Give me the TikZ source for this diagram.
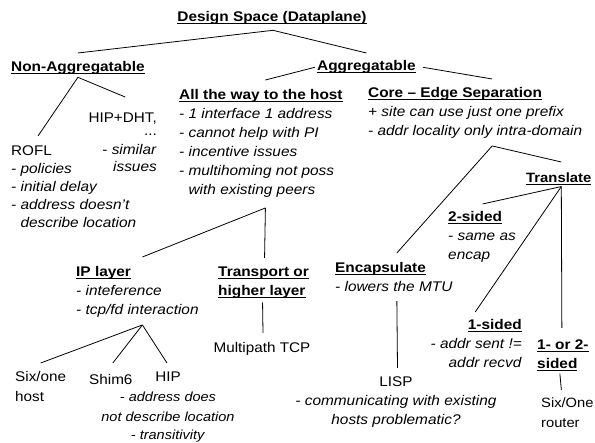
\documentclass[tikz,border=0pt]{standalone}
\usepackage{fontspec}
\setmainfont{Liberation Sans}[UprightFeatures={FakeStretch=1.09},BoldFeatures={FakeStretch=1.1},ItalicFeatures={FakeStretch=1.10}]
\newcommand\undl[1]{\setbox0=\hbox{#1}\rlap{\rule[-2.6pt]{\wd0}{1.3pt}}\box0}
\newcommand\hd[1]{\textbf{\undl{#1}}}
\begin{document}
\begin{tikzpicture}[x=1pt,y=1pt,
  tx/.style={inner sep=0pt, font=\fontsize{14}{19}\selectfont},
  conn/.style={line width=0.8pt}]
\useasboundingbox (0,0) rectangle (595,-443);
% nodes
\node[tx,anchor=north] (title) at (272,-11.5) {\hd{Design Space (Dataplane)}};
\node[tx,anchor=north west] (nonagg) at (11,-61.5) {\hd{Non-Aggregatable}};
\node[tx,anchor=north west] (agg) at (317,-60.5) {\hd{Aggregatable}};
\node[tx,anchor=north west,align=left] (host) at (179,-89.5) {\hd{All the way to the host}\\
  \textit{- 1 interface 1 address}\\
  \textit{- cannot help with PI}\\
  \textit{- incentive issues}\\
  \textit{- multihoming not poss}\\
  \textit{\phantom{- }with existing peers}};
\node[tx,anchor=north west,align=left] (core) at (368,-87.5) {\hd{Core -- Edge Separation}\\
  \textit{+ site can use just one prefix}\\
  \textit{- addr locality only intra-domain}};
\node[tx,anchor=north east,align=right,font=\fontsize{14}{18}\selectfont] (hipdht) at (157,-113) {HIP+DHT,\\[-5pt]
  ...\\[1pt]
  - \textit{similar}\\[-1pt]
  \textit{issues}};
\node[tx,anchor=north west,align=left,font=\fontsize{14}{18}\selectfont] (rofl) at (11,-146) {ROFL\\
  \textit{- policies}\\
  \textit{- initial delay}\\
  \textit{- address doesn't}\\
  \textit{\phantom{- }describe location}};
\node[tx,anchor=north west,align=left] (ipl) at (76,-266.5) {\hd{IP layer}\\
  \textit{- inteference}\\
  \textit{- tcp/fd interaction}};
\node[tx,anchor=north west,align=left] (transport) at (218,-266.5) {\hd{Transport or}\\
  \hd{higher layer}};
\node[tx,anchor=north] (mptcp) at (262,-342.5) {Multipath TCP};
\node[tx,anchor=north west,align=left,font=\fontsize{14}{20}\selectfont] (sixone) at (15,-371.5) {Six/one\\host};
\node[tx,anchor=north west] (shim6) at (89,-374) {Shim6};
\node[tx,anchor=north,align=center,font=\fontsize{14}{20}\selectfont] (hip) at (168,-371.5) {HIP\\
  {\fontsize{13.2}{20}\selectfont\textit{- address does}}\\
  {\fontsize{13.2}{20}\selectfont\textit{not describe location}}\\[-1.5pt]
  {\fontsize{13.2}{20}\selectfont\textit{- transitivity}}};
\node[tx,anchor=north west,align=left] (encap) at (335,-262.5) {\hd{Encapsulate}\\
  \textit{- lowers the MTU}};
\node[tx,anchor=north,align=center] (lisp) at (396,-376.5) {LISP\\
  \textit{- communicating with existing}\\
  \textit{hosts problematic?}};
\node[tx,anchor=north west,font=\fontsize{13.5}{19}\selectfont] (translate) at (526,-172.5) {\hd{Translate}};
\node[tx,anchor=north west,align=left] (twosided) at (448,-211.5) {\hd{2-sided}\\
  \textit{- same as}\\
  \textit{encap}};
\node[tx,anchor=north east,align=right] (onesided) at (522,-319.5) {\hd{1-sided}\\
  \textit{- addr sent !=}\\
  \textit{addr recvd}};
\node[tx,anchor=north west,align=left] (oneortwo) at (537,-339.5) {\hd{1- or 2-}\\
  \hd{sided}};
\node[tx,anchor=north west,align=left,font=\fontsize{13.5}{20}\selectfont] (sixonerouter) at (541,-397.5) {Six/One\\router};
% connectors
\draw[conn] ([shift={(1,-5.3)}]title.south) -- ([yshift=8.5]nonagg.north);
\draw[conn] ([shift={(1,-5.3)}]title.south) -- ([yshift=7.5]agg.north);
\draw[conn] ([xshift=-2]agg.west) -- ([shift={(4.5,9.5)}]host.north);
\draw[conn] ([xshift=7]agg.east) -- ([shift={(17,8.5)}]core.north);
\draw[conn] ([yshift=-2.3]nonagg.south) -- ([shift={(27,10)}]rofl.north west);
\draw[conn] ([yshift=-2.3]nonagg.south) -- ([shift={(2.5,16)}]hipdht.north);
\draw[conn] ([shift={(4.5,-10)}]host.south) -- ([shift={(5,9.5)}]ipl.north);
\draw[conn] ([shift={(4.5,-10)}]host.south) -- ([shift={(1,8.5)}]transport.north);
\draw[conn] ([shift={(17,-7)}]core.south) -- ([shift={(2.5,10.5)}]translate.north);
\draw[conn] ([shift={(17,-7)}]core.south) -- ([shift={(3,9.5)}]encap.north);
\draw[conn] ([shift={(2.5,-1.3)}]translate.south) -- ([shift={(0.5,7.5)}]twosided.north);
\draw[conn] ([shift={(2.5,-1.3)}]translate.south) -- ([shift={(-1,7.5)}]onesided.north);
\draw[conn] ([shift={(2.5,-1.3)}]translate.south) -- ([shift={(-1,11.5)}]oneortwo.north);
\draw[conn] ([shift={(5,-7)}]ipl.south) -- ([yshift=8.5]sixone.north);
\draw[conn] ([shift={(5,-7)}]ipl.south) -- ([shift={(2,11)}]shim6.north);
\draw[conn] ([shift={(5,-7)}]ipl.south) -- ([shift={(-1,8.5)}]hip.north);
\draw[conn] ([shift={(-1,-4)}]transport.south) -- ([shift={(1,9.5)}]mptcp.north);
\draw[conn] ([shift={(3,-9)}]encap.south) -- ([shift={(1.5,8.5)}]lisp.north);
\draw[conn] ([shift={(-3,-2.3)}]oneortwo.south) -- ([shift={(-6,7.5)}]sixonerouter.north);
\end{tikzpicture}
\end{document}
